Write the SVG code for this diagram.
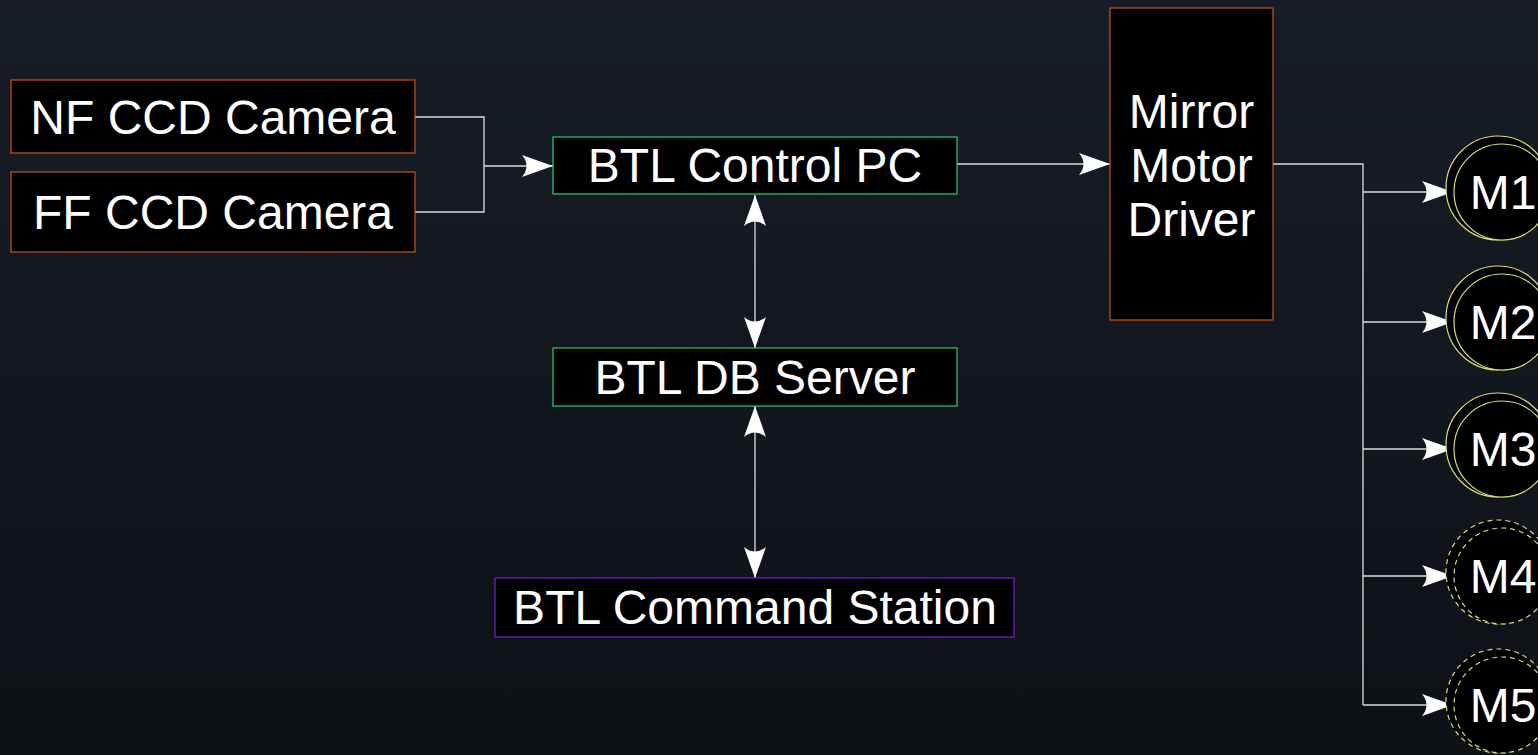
<svg xmlns="http://www.w3.org/2000/svg" width="1538" height="755" viewBox="0 0 1538 755">
<defs>
<linearGradient id="bg" x1="0" y1="0" x2="0" y2="1">
<stop offset="0" stop-color="#171d27"/>
<stop offset="1" stop-color="#0e1116"/>
</linearGradient>
<marker id="arr" viewBox="-32 -12 33 24" refX="0" refY="0" markerWidth="33" markerHeight="24" markerUnits="userSpaceOnUse" orient="auto-start-reverse">
<path d="M0,0 L-31,-11 Q-22,0 -31,11 Z" fill="#ffffff"/>
</marker>
<style>
.box{fill:#000000;stroke-width:1.2}
.orange{stroke:#cf5410}
.green{stroke:#2ecb74}
.purple{stroke:#7a1fd6}
.lbl{font-family:"Liberation Sans",Arial,sans-serif;font-size:48px;fill:#ffffff;text-anchor:middle}
.ln{fill:none;stroke:#dcdcdc;stroke-width:1.3}
.mo{fill:#000000;stroke:#dcdc70;stroke-width:1.2}
.dash{stroke-dasharray:5 4}
</style>
</defs>
<rect x="0" y="0" width="1538" height="755" fill="url(#bg)"/>

<g id="connectors">
<polyline class="ln" points="415,117 484,117 484,212 415,212"/>
<line class="ln" x1="484" y1="166" x2="553" y2="166" marker-end="url(#arr)"/>
<line class="ln" x1="957" y1="164" x2="1110" y2="164" marker-end="url(#arr)"/>
<line class="ln" x1="755" y1="195" x2="755" y2="348" marker-start="url(#arr)" marker-end="url(#arr)"/>
<line class="ln" x1="755" y1="406" x2="755" y2="578" marker-start="url(#arr)" marker-end="url(#arr)"/>
<polyline class="ln" points="1273,164 1363,164 1363,705"/>
<line class="ln" x1="1363" y1="192" x2="1453" y2="192" marker-end="url(#arr)"/>
<line class="ln" x1="1363" y1="322" x2="1453" y2="322" marker-end="url(#arr)"/>
<line class="ln" x1="1363" y1="449" x2="1453" y2="449" marker-end="url(#arr)"/>
<line class="ln" x1="1363" y1="576" x2="1453" y2="576" marker-end="url(#arr)"/>
<line class="ln" x1="1363" y1="705" x2="1453" y2="705" marker-end="url(#arr)"/>
</g>

<g id="nf-camera">
<rect class="box orange" x="11" y="80" width="404" height="73"/>
<text class="lbl" x="213" y="133.5">NF CCD Camera</text>
</g>
<g id="ff-camera">
<rect class="box orange" x="11" y="172" width="404" height="80"/>
<text class="lbl" x="213" y="229">FF CCD Camera</text>
</g>
<g id="control-pc">
<rect class="box green" x="553" y="137" width="404" height="57"/>
<text class="lbl" x="755" y="182">BTL Control PC</text>
</g>
<g id="db-server">
<rect class="box green" x="553" y="348" width="404" height="58"/>
<text class="lbl" x="755" y="394">BTL DB Server</text>
</g>
<g id="command-station">
<rect class="box purple" x="495" y="578" width="519" height="59"/>
<text class="lbl" x="755" y="624">BTL Command Station</text>
</g>
<g id="mirror-driver">
<rect class="box orange" x="1110" y="8" width="163" height="312"/>
<text class="lbl" x="1191.5" y="127.5">Mirror</text>
<text class="lbl" x="1191.5" y="182">Motor</text>
<text class="lbl" x="1191.5" y="235.5">Driver</text>
</g>
<g id="m1">
<circle class="mo" cx="1498" cy="188" r="52"/>
<circle class="mo" cx="1502" cy="192" r="48"/>
<text class="lbl" x="1503" y="209">M1</text>
</g>
<g id="m2">
<circle class="mo" cx="1498" cy="318" r="52"/>
<circle class="mo" cx="1502" cy="322" r="48"/>
<text class="lbl" x="1503" y="339">M2</text>
</g>
<g id="m3">
<circle class="mo" cx="1498" cy="445" r="52"/>
<circle class="mo" cx="1502" cy="449" r="48"/>
<text class="lbl" x="1503" y="466">M3</text>
</g>
<g id="m4">
<circle class="mo dash" cx="1498" cy="572" r="52"/>
<circle class="mo dash" cx="1502" cy="576" r="48"/>
<text class="lbl" x="1503" y="593">M4</text>
</g>
<g id="m5">
<circle class="mo dash" cx="1498" cy="701" r="52"/>
<circle class="mo dash" cx="1502" cy="705" r="48"/>
<text class="lbl" x="1503" y="722">M5</text>
</g>
</svg>
